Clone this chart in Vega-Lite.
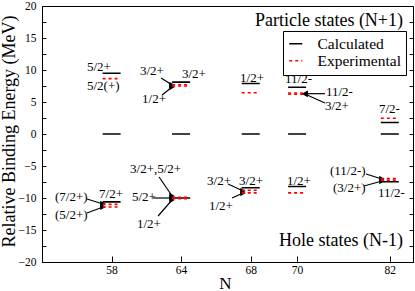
{
  "$schema": "https://vega.github.io/schema/vega-lite/v6.json",
  "width": 371,
  "height": 256,
  "autosize": "none",
  "padding": {"left": 42, "top": 6, "right": 2, "bottom": 29},
  "background": "white",
  "config": {
    "font": "Liberation Serif",
    "view": {"stroke": "black", "strokeWidth": 1},
    "axis": {"grid": false, "domainColor": "black", "tickColor": "black", "labelColor": "black", "titleColor": "black", "labelFont": "Liberation Serif", "titleFont": "Liberation Serif", "titleFontWeight": "normal"}
  },
  "datasets": {
    "levels": [
      {"N": 58, "E": 9.5, "type": "Calculated"},
      {"N": 58, "E": 0, "type": "Calculated"},
      {"N": 58, "E": -10.6, "type": "Calculated"},
      {"N": 64, "E": 8.1, "type": "Calculated"},
      {"N": 64, "E": 0, "type": "Calculated"},
      {"N": 64, "E": -10.0, "type": "Calculated"},
      {"N": 68, "E": 7.9, "type": "Calculated"},
      {"N": 68, "E": 0, "type": "Calculated"},
      {"N": 68, "E": -8.4, "type": "Calculated"},
      {"N": 70, "E": 7.3, "type": "Calculated"},
      {"N": 70, "E": 0, "type": "Calculated"},
      {"N": 70, "E": -8.2, "type": "Calculated"},
      {"N": 82, "E": 1.8, "type": "Calculated"},
      {"N": 82, "E": 0, "type": "Calculated"},
      {"N": 82, "E": -7.45, "type": "Calculated"},
      {"N": 58, "E": 8.65, "type": "Experimental"},
      {"N": 64, "E": 7.7, "type": "Experimental"},
      {"N": 64, "E": 7.5, "type": "Experimental"},
      {"N": 68, "E": 6.45, "type": "Experimental"},
      {"N": 70, "E": 6.4, "type": "Experimental"},
      {"N": 70, "E": 6.2, "type": "Experimental"},
      {"N": 82, "E": 2.45, "type": "Experimental"},
      {"N": 58, "E": -11.0, "type": "Experimental"},
      {"N": 58, "E": -11.4, "type": "Experimental"},
      {"N": 64, "E": -9.9, "type": "Experimental"},
      {"N": 64, "E": -10.1, "type": "Experimental"},
      {"N": 68, "E": -8.8, "type": "Experimental"},
      {"N": 68, "E": -9.2, "type": "Experimental"},
      {"N": 70, "E": -9.2, "type": "Experimental"},
      {"N": 82, "E": -6.95, "type": "Experimental"},
      {"N": 82, "E": -7.2, "type": "Experimental"}
    ],
    "labels": [
      {"text": "5/2+", "x": 56.94, "y": 10.47},
      {"text": "5/2(+)", "x": 56.94, "y": 7.5},
      {"text": "3/2+", "x": 60.45, "y": 9.84},
      {"text": "3/2+", "x": 64.05, "y": 9.375},
      {"text": "1/2+", "x": 60.63, "y": 5.47},
      {"text": "1/2+", "x": 67.39, "y": 8.75},
      {"text": "11/2-", "x": 69.48, "y": 8.6},
      {"text": "11/2-", "x": 73.74, "y": 6.56},
      {"text": "3/2+", "x": 73.61, "y": 4.375},
      {"text": "7/2-", "x": 80.6, "y": 3.9},
      {"text": "(7/2+)", "x": 55.56, "y": -9.84},
      {"text": "(5/2+)", "x": 55.56, "y": -12.66},
      {"text": "7/2+", "x": 57.46, "y": -9.375},
      {"text": "3/2+,5/2+", "x": 59.59, "y": -5.47},
      {"text": "5/2+", "x": 59.76, "y": -9.84},
      {"text": "1/2+", "x": 60.19, "y": -14.06},
      {"text": "3/2+", "x": 65.49, "y": -7.34},
      {"text": "3/2+", "x": 67.33, "y": -7.34},
      {"text": "1/2+", "x": 65.6, "y": -11.25},
      {"text": "1/2+", "x": 69.56, "y": -7.34},
      {"text": "(11/2-)", "x": 74.26, "y": -5.78},
      {"text": "(3/2+)", "x": 74.65, "y": -8.44},
      {"text": "11/2-", "x": 80.47, "y": -9.22}
    ],
    "arrows": [
      {"x1": 62.27, "y1": 8.75, "x2": 63.22, "y2": 7.66, "dir": "right"},
      {"x1": 62.36, "y1": 6.09, "x2": 63.22, "y2": 7.34, "dir": "right"},
      {"x1": 73.6, "y1": 6.3, "x2": 71.02, "y2": 6.3, "dir": "left"},
      {"x1": 73.6, "y1": 4.84, "x2": 71.02, "y2": 6.25, "dir": "left"},
      {"x1": 56.94, "y1": -10.16, "x2": 57.63, "y2": -10.94, "dir": "right"},
      {"x1": 56.94, "y1": -12.34, "x2": 57.63, "y2": -11.4, "dir": "right"},
      {"x1": 62.1, "y1": -6.72, "x2": 63.22, "y2": -9.69, "dir": "right"},
      {"x1": 61.58, "y1": -10, "x2": 63.22, "y2": -10, "dir": "right"},
      {"x1": 62.01, "y1": -12.81, "x2": 63.22, "y2": -10.31, "dir": "right"},
      {"x1": 66.7, "y1": -7.81, "x2": 67.56, "y2": -8.9, "dir": "right"},
      {"x1": 66.93, "y1": -10.0, "x2": 67.56, "y2": -9.22, "dir": "right"},
      {"x1": 78.92, "y1": -6.25, "x2": 80.99, "y2": -7.03, "dir": "right"},
      {"x1": 78.66, "y1": -8.125, "x2": 80.99, "y2": -7.34, "dir": "right"}
    ],
    "titles": [
      {"text": "Particle states (N+1)", "x": 82.57, "y": 17.66},
      {"text": "Hole states (N-1)", "x": 82.57, "y": -16.72}
    ]
  },
  "resolve": {"axis": {"y": "independent"}},
  "layer": [
    {
      "data": {"name": "arrows"},
      "mark": {"type": "rule", "color": "black", "strokeWidth": 1.2},
      "encoding": {
        "x": {"field": "x1", "type": "quantitative",
              "scale": {"domain": [55, 58, 64, 68, 70, 82, 83], "range": [0, 69.6, 139.1, 208.7, 255.1, 347.8, 371], "nice": false, "zero": false},
              "axis": {"values": [58, 64, 68, 70, 82], "title": "N", "tickSize": -6, "labelPadding": 8,
                       "labelFontSize": 11.5, "titleFontSize": 17, "titleX": 183, "titleY": 21,
                       "titleBaseline": "middle", "titleAlign": "center"}},
        "x2": {"field": "x2"},
        "y": {"field": "y1", "type": "quantitative", "scale": {"domain": [-20, 20], "nice": false},
              "axis": {"orient": "right", "title": null, "labels": false, "domain": false,
                       "values": [-20, -17.5, -15, -12.5, -10, -7.5, -5, -2.5, 0, 2.5, 5, 7.5, 10, 12.5, 15, 17.5, 20],
                       "tickSize": -4}},
        "y2": {"field": "y2"}
      }
    },
    {
      "data": {"name": "arrows"},
      "mark": {"type": "point", "filled": true, "color": "black", "size": 40, "opacity": 1},
      "encoding": {
        "x": {"field": "x2", "type": "quantitative"},
        "y": {"field": "y2", "type": "quantitative", "axis": null},
        "shape": {"field": "dir", "type": "nominal", "legend": null,
                  "scale": {"domain": ["right", "left"], "range": ["triangle-right", "triangle-left"]}}
      }
    },
    {
      "data": {"name": "levels"},
      "mark": {"type": "rule", "xOffset": -9, "x2Offset": 9, "strokeWidth": 1.6},
      "encoding": {
        "x": {"field": "N", "type": "quantitative"},
        "x2": {"field": "N"},
        "y": {"field": "E", "type": "quantitative",
              "axis": {"title": "Relative Binding Energy (MeV)", "titleFontSize": 18,
                       "titleX": -33, "titleY": 125, "titleAngle": -90, "titleAlign": "center", "titleBaseline": "middle",
                       "values": [-20, -17.5, -15, -12.5, -10, -7.5, -5, -2.5, 0, 2.5, 5, 7.5, 10, 12.5, 15, 17.5, 20],
                       "labelExpr": "datum.value % 5 === 0 ? datum.label : ''",
                       "tickSize": -4, "labelPadding": 10, "labelFontSize": 11.5}},
        "color": {"field": "type", "type": "nominal", "title": null,
                  "scale": {"domain": ["Calculated", "Experimental"], "range": ["black", "red"]},
                  "legend": {"orient": "none", "legendX": 241, "legendY": 25, "symbolType": "stroke",
                             "symbolSize": 169, "symbolStrokeWidth": 1.6, "labelFontSize": 15.5,
                             "labelOffset": 14, "rowPadding": -3, "padding": 5,
                             "strokeColor": "black", "fillColor": "white", "labelColor": "black",
                             "labelFont": "Liberation Serif"}},
        "strokeDash": {"field": "type", "type": "nominal", "title": null,
                       "scale": {"domain": ["Calculated", "Experimental"], "range": [[1, 0], [3, 3]]}}
      }
    },
    {
      "data": {"name": "labels"},
      "mark": {"type": "text", "align": "left", "baseline": "middle", "fontSize": 13, "color": "black", "font": "Liberation Serif"},
      "encoding": {
        "x": {"field": "x", "type": "quantitative"},
        "y": {"field": "y", "type": "quantitative", "axis": null},
        "text": {"field": "text"}
      }
    },
    {
      "data": {"name": "titles"},
      "mark": {"type": "text", "align": "right", "baseline": "middle", "fontSize": 18, "color": "black", "font": "Liberation Serif"},
      "encoding": {
        "x": {"field": "x", "type": "quantitative"},
        "y": {"field": "y", "type": "quantitative", "axis": null},
        "text": {"field": "text"}
      }
    }
  ]
}
